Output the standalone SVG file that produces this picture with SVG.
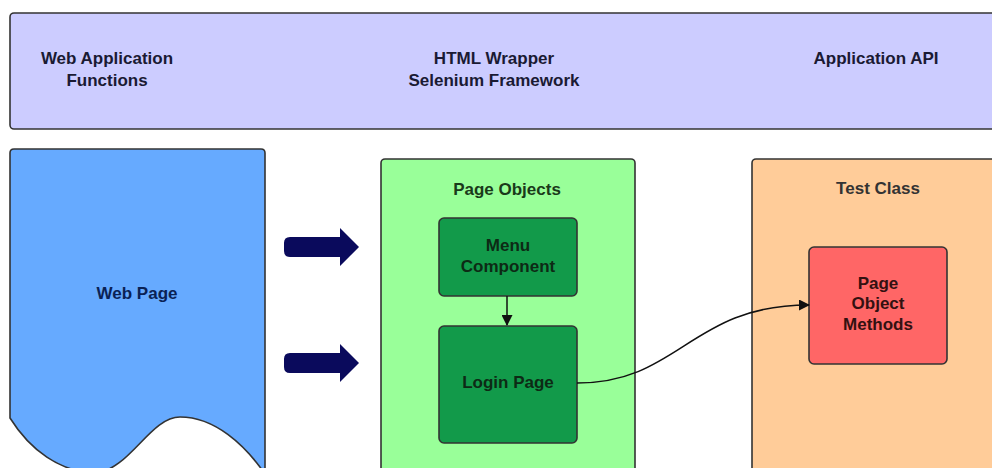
<svg xmlns="http://www.w3.org/2000/svg" width="992" height="468" viewBox="0 0 992 468">
<style>
text{font-family:"Liberation Sans",Arial,sans-serif;font-weight:bold;font-size:17px;text-anchor:middle}
.box{stroke:#333;stroke-width:1.6}
</style>
<defs>
<marker id="ah" markerWidth="11" markerHeight="11" refX="10" refY="5.5" orient="auto" markerUnits="userSpaceOnUse">
<path d="M0,0 L11,5.5 L0,11 Z" fill="#111"/>
</marker>
</defs>
<rect width="992" height="468" fill="#fff"/>
<g id="header">
<rect class="box" x="10" y="13" width="1000" height="116" rx="4" fill="#ccccff"/>
<text x="107" y="64" fill="#1a1a33">Web Application</text>
<text x="107" y="86" fill="#1a1a33">Functions</text>
<text x="494" y="64" fill="#1a1a33">HTML Wrapper</text>
<text x="494" y="86" fill="#1a1a33">Selenium Framework</text>
<text x="876" y="64" fill="#1a1a33">Application API</text>
</g>
<g id="web-page">
<path class="box" fill="#66aaff" stroke="#1a2a44" d="M10,418 L10,153 Q10,149 14,149 L261,149 Q265,149 265,153 L265,474 C245,445 215,417 180,417 C150,417 130,470 95,473 C60,472 30,450 10,418 Z"/>
<text x="137" y="299" fill="#0a2255">Web Page</text>
</g>
<g id="page-objects">
<rect class="box" x="381" y="159" width="254" height="320" rx="4" fill="#99ff99" stroke="#2a4a2a"/>
<text x="507" y="195" fill="#1a3a1a">Page Objects</text>
</g>
<g id="menu-component">
<rect class="box" x="439" y="218" width="138" height="78" rx="5" fill="#129a4a" stroke="#0d3a1d"/>
<text x="508" y="251" fill="#0d2a15">Menu</text>
<text x="508" y="272" fill="#0d2a15">Component</text>
</g>
<g id="login-page">
<rect class="box" x="439" y="326" width="138" height="117" rx="5" fill="#129a4a" stroke="#0d3a1d"/>
<text x="508" y="388" fill="#0d2a15">Login Page</text>
</g>
<g id="test-class">
<rect class="box" x="752" y="159" width="260" height="320" rx="4" fill="#ffcc99" stroke="#3a2a1a"/>
<text x="878" y="194" fill="#333">Test Class</text>
</g>
<g id="page-object-methods">
<rect class="box" x="809" y="247" width="138" height="117" rx="5" fill="#ff6666" stroke="#3a1a1a"/>
<text x="878" y="289" fill="#331111">Page</text>
<text x="878" y="309" fill="#331111">Object</text>
<text x="878" y="330" fill="#331111">Methods</text>
</g>
<g id="connectors">
<path d="M290,237 L340,237 L340,228 L359,247 L340,266 L340,257 L290,257 Q284,257 284,251 L284,243 Q284,237 290,237 Z" fill="#0a0a5c"/>
<path d="M290,353 L340,353 L340,344 L359,363 L340,382 L340,373 L290,373 Q284,373 284,367 L284,359 Q284,353 290,353 Z" fill="#0a0a5c"/>
<path d="M507,296 L507,325" stroke="#111" stroke-width="1.5" fill="none" marker-end="url(#ah)"/>
<path d="M577,383 C680,383 690,305 809,305" stroke="#111" stroke-width="1.5" fill="none" marker-end="url(#ah)"/>
</g>
</svg>
